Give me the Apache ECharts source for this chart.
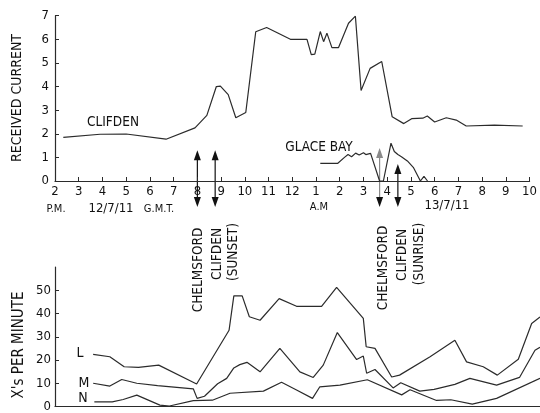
<!DOCTYPE html>
<html><head><meta charset="utf-8">
<script src="https://cdn.jsdelivr.net/npm/echarts@6/dist/echarts.min.js"></script>
<style>html,body{margin:0;padding:0;background:#fff}#c{width:540px;height:413px}</style>
</head><body><div id="c"></div>
<script>
// hours: 14 = 2 P.M. 12/7/11 ... 34 = 10 A.M. 13/7/11 (G.M.T.)
const clifden = [[14.35,1.85],[15.9,1.98],[17.0,1.99],[18.68,1.77],[19.9,2.25],[20.4,2.78],[20.8,4.0],[20.97,4.02],[21.3,3.66],[21.62,2.68],[22.04,2.9],[22.46,6.32],[22.92,6.5],[23.92,6.0],[24.62,6.0],[24.8,5.35],[24.95,5.37],[25.18,6.33],[25.32,5.9],[25.46,6.26],[25.67,5.65],[25.95,5.65],[26.37,6.68],[26.66,6.98],[26.9,3.83],[27.28,4.77],[27.77,5.06],[28.21,2.72],[28.7,2.43],[29.03,2.64],[29.5,2.66],[29.69,2.75],[30.0,2.5],[30.49,2.68],[30.91,2.58],[31.33,2.33],[32.52,2.37],[33.71,2.33]];
const glaceBay = [[25.18,0.75],[25.92,0.75],[26.2,1.0],[26.35,1.12],[26.5,1.03],[26.67,1.18],[26.82,1.1],[27.0,1.2],[27.1,1.12],[27.3,1.17],[27.35,1.12],[27.68,0],[27.84,0],[28.16,1.6],[28.3,1.25],[28.45,1.12],[28.6,1.03],[28.85,0.85],[29.1,0.58],[29.4,0],[29.55,0.2],[29.7,0]];
const seriesL = [[15.6,22.4],[16.3,21.4],[16.9,17.1],[17.5,16.8],[18.35,17.8],[19.94,9.7],[21.3,32.8],[21.5,47.6],[21.85,47.6],[22.15,38.6],[22.6,37.1],[23.4,46.4],[24.13,43.1],[25.18,43.1],[25.81,51.2],[26.93,37.9],[27.05,25.7],[27.42,25.0],[28.12,12.7],[28.45,13.5],[29.73,21.4],[30.77,28.5],[31.26,19.2],[31.96,17.1],[32.55,13.5],[33.43,20.3],[33.99,35.7],[34.34,38.5]];
const seriesM = [[15.6,10.0],[16.3,8.8],[16.8,11.6],[17.43,10.0],[18.3,9.0],[19.8,7.6],[19.96,3.5],[20.27,4.4],[20.82,9.8],[21.2,12.1],[21.5,16.6],[21.75,18.0],[22.05,19.0],[22.6,14.9],[23.43,25.0],[24.27,14.9],[24.83,12.5],[25.25,17.8],[25.84,31.8],[26.65,20.2],[26.93,21.7],[27.07,14.3],[27.42,15.9],[28.18,8.0],[28.5,10.2],[29.3,6.6],[29.9,7.4],[30.77,9.5],[31.4,12.1],[32.52,9.2],[33.48,12.5],[34.13,24.2],[34.34,25.5]];
const seriesN = [[15.65,2.0],[16.4,2.0],[16.86,3.0],[17.43,4.9],[18.4,0.6],[18.8,0.2],[19.8,2.5],[20.6,2.7],[21.34,5.7],[22.74,6.6],[23.5,10.4],[24.13,7.1],[24.8,3.5],[25.1,8.4],[25.95,9.2],[27.1,11.5],[28.54,5.0],[28.89,7.2],[30.0,2.6],[30.6,2.9],[31.5,1.0],[32.52,3.5],[34.34,12.1]];
const arrowTimes = [20.0, 20.75, 27.68, 28.45];
const arrowUpTips = [1.3, 1.3, 1.4, 0.72];
const arrowDownTip = -1.1;

const FONT = "'DejaVu Sans Condensed','DejaVu Sans',sans-serif";
const INK = '#2b2b2b';
const chart = echarts.init(document.getElementById('c'), null, {renderer:'canvas'});
const lineS = (data, g) => ({type:'line', xAxisIndex:g, yAxisIndex:g, data, showSymbol:false, symbol:'none', clip:false,
  lineStyle:{color:INK, width:1.2}, animation:false});
const hourLabel = v => String(((Math.round(v) - 1) % 12) + 1);

chart.setOption({
  animation:false,
  grid:[{left:55, top:15.7, width:477, height:165.3},{left:55, top:267, width:485, height:139.5}],
  xAxis:[
    {type:'value', gridIndex:0, min:14, max:34, interval:1, splitLine:{show:false},
     axisLine:{lineStyle:{color:INK,width:1.2}}, axisTick:{inside:true,length:4,lineStyle:{color:INK}},
     axisLabel:{formatter:hourLabel, color:'#111', fontSize:13, fontFamily:FONT, margin:4}},
    {type:'value', gridIndex:1, min:14, max:34.34, splitLine:{show:false},
     axisLine:{lineStyle:{color:INK,width:1.2}}, axisTick:{show:false}, axisLabel:{show:false}}
  ],
  yAxis:[
    {type:'value', gridIndex:0, min:0, max:7, interval:1, splitLine:{show:false},
     axisLine:{show:true,lineStyle:{color:INK,width:1.2}}, axisTick:{show:true,inside:true,length:4,lineStyle:{color:INK}},
     axisLabel:{color:'#111', fontSize:13, fontFamily:FONT, margin:6}},
    {type:'value', gridIndex:1, min:0, max:60, interval:10, splitLine:{show:false},
     axisLine:{show:true,lineStyle:{color:INK,width:1.2}}, axisTick:{show:true,inside:true,length:4,lineStyle:{color:INK}},
     axisLabel:{color:'#111', fontSize:13, fontFamily:FONT, margin:4, showMaxLabel:false}}
  ],
  series:[lineS(clifden,0), lineS(glaceBay,0), lineS(seriesL,1), lineS(seriesM,1), lineS(seriesN,1)]
});

const txt = (x, y, s, rot, size) => ({type:'text', x, y, rotation: rot ? Math.PI/2 : 0,
  style:{text:s, fill:'#111', font:(size||12)+'px '+FONT, align:'center', verticalAlign:'middle'}, silent:true});
const g = [];
g.push(txt(17, 98, 'RECEIVED CURRENT', true, 14));
g.push(txt(19, 345, "X's PER MINUTE", true, 15));
g.push(txt(113, 122, 'CLIFDEN', false, 13.5));
g.push(txt(319, 147, 'GLACE BAY', false, 13.5));
g.push(txt(56, 209, 'P.M.', false, 11));
g.push(txt(111, 209, '12/7/11', false, 13));
g.push(txt(159, 209, 'G.M.T.', false, 11));
g.push(txt(319, 207, 'A.M', false, 11));
g.push(txt(447, 206, '13/7/11', false, 13));
g.push(txt(198, 270, 'CHELMSFORD', true, 13.5));
g.push(txt(217, 254, 'CLIFDEN', true, 13.5));
g.push(txt(233, 252, '(SUNSET)', true, 13.5));
g.push(txt(383, 268, 'CHELMSFORD', true, 13.5));
g.push(txt(402, 255, 'CLIFDEN', true, 13.5));
g.push(txt(419, 254, '(SUNRISE)', true, 13.5));
g.push(txt(80, 353, 'L', false, 14));
g.push(txt(84, 383, 'M', false, 14));
g.push(txt(83, 398, 'N', false, 14));

arrowTimes.forEach((t, i) => {
  const up = chart.convertToPixel({gridIndex:0}, [t, arrowUpTips[i]]);
  const dn = chart.convertToPixel({gridIndex:0}, [t, arrowDownTip]);
  const col = i === 2 ? '#8a8a8a' : '#111';
  const x = up[0];
  g.push({type:'line', shape:{x1:x, y1:up[1]+3, x2:x, y2:dn[1]-3}, style:{stroke:col, lineWidth:1.2}, silent:true});
  g.push({type:'polygon', shape:{points:[[x,up[1]],[x-3.5,up[1]+10],[x+3.5,up[1]+10]]}, style:{fill:col}, silent:true});
  g.push({type:'polygon', shape:{points:[[x,dn[1]],[x-3.5,dn[1]-10],[x+3.5,dn[1]-10]]}, style:{fill:'#111'}, silent:true});
});
chart.setOption({graphic:g});
</script></body></html>
